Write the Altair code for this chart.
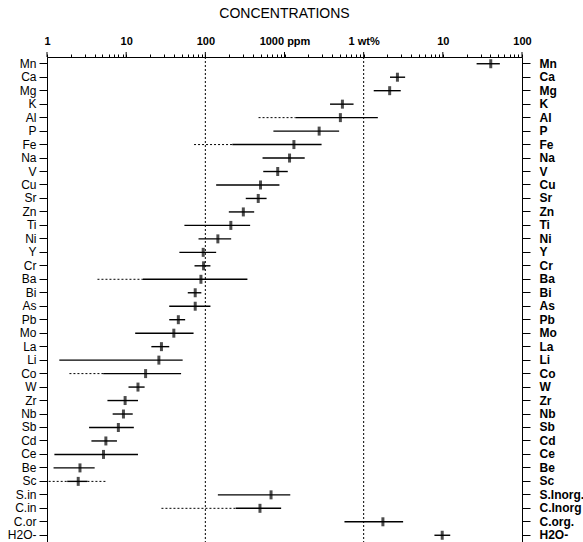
import altair as alt
import pandas as pd

# Elements (top to bottom) and right-hand labels
elements = ["Mn", "Ca", "Mg", "K", "Al", "P", "Fe", "Na", "V", "Cu", "Sr", "Zn", "Ti", "Ni",
            "Y", "Cr", "Ba", "Bi", "As", "Pb", "Mo", "La", "Li", "Co", "W", "Zr", "Nb", "Sb",
            "Cd", "Ce", "Be", "Sc", "S.in", "C.in", "C.or", "H2O-"]
right_labels = ["Mn", "Ca", "Mg", "K", "Al", "P", "Fe", "Na", "V", "Cu", "Sr", "Zn", "Ti", "Ni",
                "Y", "Cr", "Ba", "Bi", "As", "Pb", "Mo", "La", "Li", "Co", "W", "Zr", "Nb", "Sb",
                "Cd", "Ce", "Be", "Sc", "S.Inorg.", "C.Inorg", "C.org.", "H2O-"]

# concentrations in ppm
center = [403000, 26700, 21300, 5390, 5080, 2740, 1315, 1158, 821, 498, 466, 302, 210, 144,
          94, 95, 88, 74.5, 74.5, 45.6, 40, 27.9, 25.9, 17.6, 14.1, 9.7, 9.24, 7.97,
          5.54, 5.17, 2.61, 2.48, 676, 490, 17500, 98200]
low = [267000, 21500, 13400, 3760, 1380, 724, 219, 528, 539, 137, 324, 198, 54.4, 82,
       47, 73, 16.3, 60, 35, 35, 13, 20.8, 1.43, 5.13, 10.7, 5.8, 6.75, 3.4,
       3.64, 1.24, 1.21, 1.8, 144, 242, 5720, 78300]
high = [525000, 33400, 29400, 7450, 15100, 4900, 2940, 1800, 1100, 863, 594, 414, 368, 212,
        137, 116, 340, 89, 116, 55.6, 71, 35, 51.7, 49.4, 17.1, 14.1, 12.1, 12.5,
        7.65, 14.1, 4.0, 3.24, 1183, 907, 31500, 124000]

# dotted extensions
dotted_low_elems = ["Al", "Fe", "Ba", "Co", "Sc", "C.in"]
dotted_low_vals = [470, 72, 4.34, 1.92, 1.05, 27.9]
dotted_high_elems = ["Sc"]
dotted_high_vals = [5.7]

ref_lines = [100, 10000]

tick_values = [m * 10 ** d for d in range(6) for m in range(1, 10)] + [1000000]
tick_label_values = [1, 10, 100, 1000, 10000, 100000, 1000000]
tick_label_texts = ["1", "10", "100", "1000 ppm", "1 wt%", "10", "100"]

df = pd.DataFrame({"element": elements, "center": center, "low": low, "high": high})
lowmap = dict(zip(elements, low))
highmap = dict(zip(elements, high))
dlo = pd.DataFrame({"element": dotted_low_elems, "a": dotted_low_vals,
                    "b": [lowmap[e] for e in dotted_low_elems]})
dhi = pd.DataFrame({"element": dotted_high_elems, "a": [highmap[e] for e in dotted_high_elems],
                    "b": dotted_high_vals})
major = pd.DataFrame({"v": tick_label_values})

FONT = "Liberation Sans"

x_label_expr = "".join(f"datum.value == {v} ? '{t}' : " for v, t in zip(tick_label_values, tick_label_texts)) + "''"
right_expr = "".join(f"datum.value == '{a}' ? '{b}' : " for a, b in zip(elements, right_labels)) + "datum.value"

xscale = alt.Scale(type="log", domain=[1, 1000000])
yscale = alt.Scale(paddingInner=0, paddingOuter=0)

top_axis = alt.Axis(orient="top", values=tick_values, labelExpr=x_label_expr, tickSize=3,
                    labelPadding=8, labelFont=FONT, labelFontSize=11, labelFontWeight="bold",
                    labelOverlap=False, labelFlush=False, grid=False, title=None,
                    domainColor="black", tickColor="black", labelColor="black")
left_axis = alt.Axis(orient="left", title=None, tickSize=8, labelPadding=3, labelFont=FONT,
                     labelFontSize=12, labelColor="black", domainColor="black", tickColor="black")
right_axis = alt.Axis(orient="right", title=None, tickSize=8, labelPadding=9, labelFont=FONT,
                      labelFontSize=12, labelFontWeight="bold", labelColor="black",
                      domainColor="black", tickColor="black", labelExpr=right_expr)

vlines = alt.Chart(pd.DataFrame({"v": ref_lines})).mark_rule(
    color="black", strokeWidth=1, strokeDash=[2, 2]
).encode(x=alt.X("v:Q", scale=xscale, axis=None))

# longer major ticks on the top axis, drawn through the same scale
major_ticks = alt.Chart(major).mark_rule(color="black", strokeWidth=1).encode(
    x=alt.X("v:Q", scale=xscale, axis=None),
    y=alt.value(-5), y2=alt.value(0),
)

solid = alt.Chart(df).mark_rule(color="black", strokeWidth=1.4).encode(
    x=alt.X("low:Q", scale=xscale, axis=top_axis),
    x2="high:Q",
    y=alt.Y("element:N", sort=elements, scale=yscale, axis=left_axis),
)

dot_lo = alt.Chart(dlo).mark_rule(color="black", strokeWidth=1, strokeDash=[2, 2]).encode(
    x=alt.X("a:Q", scale=xscale, axis=None), x2="b:Q",
    y=alt.Y("element:N", sort=elements, scale=yscale, axis=None),
)
dot_hi = alt.Chart(dhi).mark_rule(color="black", strokeWidth=1, strokeDash=[2, 2]).encode(
    x=alt.X("a:Q", scale=xscale, axis=None), x2="b:Q",
    y=alt.Y("element:N", sort=elements, scale=yscale, axis=None),
)

ticks = alt.Chart(df).mark_tick(color="black", thickness=3, size=9).encode(
    x=alt.X("center:Q", scale=xscale, axis=None),
    y=alt.Y("element:N", sort=elements, scale=yscale, axis=right_axis),
)

chart = alt.layer(vlines, solid, dot_lo, dot_hi, ticks, major_ticks).resolve_axis(
    x="independent", y="independent"
).properties(
    width=475, height=485,
    autosize=alt.AutoSizeParams(type="none"),
    padding={"left": 47, "top": 57, "right": 61, "bottom": 0},
    title=alt.Title("CONCENTRATIONS", font=FONT, fontSize=14, fontWeight="normal",
                    anchor="middle", offset=14, color="black"),
    background="white",
).configure_view(stroke=None)

chart.save("out.html", embed_options={"renderer": "svg", "actions": False})
